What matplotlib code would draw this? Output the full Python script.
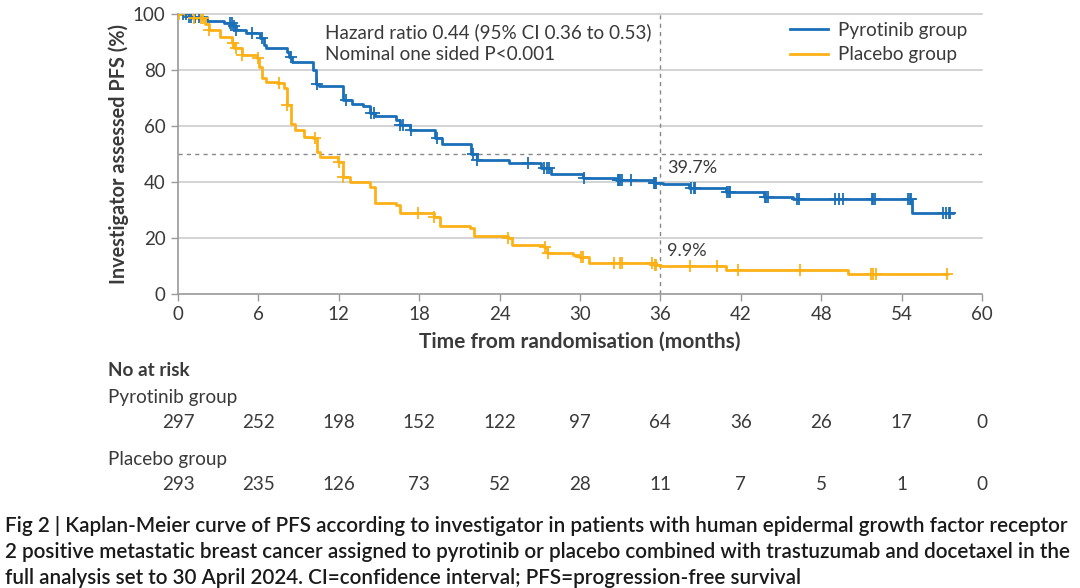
import numpy as np
import matplotlib
matplotlib.use("Agg")
import matplotlib.pyplot as plt
from matplotlib.lines import Line2D

plt.rcParams['font.family'] = ['Lato', 'DejaVu Sans']

# ---------------- data ----------------
pyro_t = [0, 0.8, 2.2, 3.4, 4.1, 4.3, 5.1, 6.1, 6.4, 6.6, 8.1, 8.3, 8.5, 10.1, 10.3, 10.5,
          12.35, 13.0, 13.8, 14.3, 14.7, 16.3, 16.6, 17.3, 19.2, 19.7, 21.9, 22.3, 24.7,
          27.1, 27.8, 30.2, 32.7, 35.5, 36.2, 38.1, 40.9, 43.7, 45.9, 54.75]
pyro_s = [100, 99, 97.6, 96.8, 95.8, 94.3, 93.1, 91.3, 88.9, 87.8, 86.5, 84.8, 83, 80, 75, 74.3,
          69.3, 68.0, 67.0, 64.6, 63.6, 62.1, 60.4, 58.6, 55.8, 53.6, 50.0, 47.9, 46.7,
          44.9, 42.9, 41.3, 40.6, 39.7, 39.2, 38.0, 36.5, 34.8, 33.8, 28.8]
pyro_end = 57.8
pyro_cens = [0.4, 0.6, 0.8, 1.0, 1.3, 1.6, 3.9, 4.0, 4.15, 4.35, 5.5, 6.3, 8.4, 10.4, 12.5,
             14.4, 14.6, 16.6, 16.8, 17.4, 19.3, 22.0, 22.3, 26.1, 27.3, 27.5, 27.7, 30.3,
             32.8, 32.9, 33.0, 33.1, 33.8, 35.5, 35.6, 35.7, 38.3, 38.5, 38.6, 41.0, 41.1,
             41.2, 43.8, 43.9, 44.0, 46.2, 46.35, 49.0, 49.3, 49.6, 51.8, 51.9, 52.0, 54.5,
             54.6, 54.7, 57.1, 57.3, 57.5, 57.6]

plac_t = [0, 1.0, 2.0, 2.3, 3.1, 4.0, 4.2, 4.75, 5.9, 6.05, 6.25, 6.6, 7.4, 7.9, 8.1, 8.4, 8.7,
          9.4, 10.1, 10.35, 10.6, 11.96, 12.3, 12.8, 14.3, 14.7, 16.3, 16.6, 19.1, 19.55,
          21.8, 22.1, 24.6, 24.9, 27.3, 27.5, 29.5, 29.9, 30.7, 35.5, 36.0, 40.9, 50.0]
plac_s = [100, 98.6, 96.5, 94.3, 91.9, 89.5, 87.7, 85.4, 84.2, 81.2, 77, 75.8, 75.2, 73.5, 67.5,
          60.6, 58.4, 56.2, 55.6, 50.8, 49.0, 47.3, 41.9, 40.1, 38.3, 32.4, 31.8, 28.8, 27.6,
          24.3, 23.5, 20.7, 20.1, 17.5, 16.9, 14.5, 13.9, 13.1, 11.2, 10.4, 9.9, 8.6, 7.0]
plac_end = 57.4
plac_cens = [0.1, 1.2, 1.7, 1.9, 2.3, 4.1, 4.3, 4.8, 6.0, 7.5, 8.15, 10.2, 12.0, 12.3, 17.9,
             19.1, 24.6, 27.4, 27.6, 30.1, 30.2, 32.5, 33.0, 33.1, 35.4, 35.6, 35.7, 38.2,
             40.2, 41.8, 46.4, 51.7, 51.9, 52.1, 57.4]

xticks = [0, 6, 12, 18, 24, 30, 36, 42, 48, 54, 60]
yticks = [0, 20, 40, 60, 80, 100]
risk_pyro = [297, 252, 198, 152, 122, 97, 64, 36, 26, 17, 0]
risk_plac = [293, 235, 126, 73, 52, 28, 11, 7, 5, 1, 0]

BLUE = '#1a6fb8'
ORANGE = '#fdb117'
TXT = '#3a3a3a'
FS = 13.6

W, H = 1080, 588
fig = plt.figure(figsize=(W / 100, H / 100), dpi=100)
ax = fig.add_axes([178 / W, 1 - 294 / H, 804 / W, 280 / H])


def draw(ts, ss, end, cens, color, label):
    t = np.array(ts + [end])
    s = np.array(ss + [ss[-1]])
    ax.step(t, s, where='post', color=color, lw=2.0, label=label, zorder=3)
    c = np.array(cens)
    idx = np.searchsorted(np.array(ts), c, side='right') - 1
    ax.plot(c, np.array(ss)[idx], ls='none', marker='+', ms=8, mew=1.3, color=color, zorder=4)


draw(pyro_t, pyro_s, pyro_end, pyro_cens, BLUE, 'Pyrotinib group')
draw(plac_t, plac_s, plac_end, plac_cens, ORANGE, 'Placebo group')

ax.set_xlim(0, 60)
ax.set_ylim(0, 100)
ax.set_xticks(xticks)
ax.set_yticks(yticks)
ax.tick_params(axis='both', direction='out', length=5, width=1, color='#999999',
               labelsize=13.5, labelcolor=TXT, pad=4)
for sp in ['top', 'right']:
    ax.spines[sp].set_visible(False)
for sp in ['left', 'bottom']:
    ax.spines[sp].set_color('#999999')
    ax.spines[sp].set_linewidth(1.2)
for y in yticks[1:]:
    ax.axhline(y, color='#cccccc', lw=1.2, zorder=1, clip_on=False)
ax.axhline(50, color='#888888', lw=1, ls=(0, (3, 3)), zorder=2)
ax.axvline(36, color='#888888', lw=1, ls=(0, (3, 3)), zorder=2)

ax.set_xlabel('Time from randomisation (months)', fontsize=15, fontweight='bold', color=TXT, labelpad=6)
ax.set_ylabel('Investigator assessed PFS (%)', fontsize=14.3, fontweight='bold', color=TXT, labelpad=3)

ax.text(36.5, 39.7 + 2.5, '39.7%', fontsize=FS - 0.6, color=TXT, va='bottom', ha='left')
ax.text(36.5, 9.9 + 2.5, '9.9%', fontsize=FS - 0.6, color=TXT, va='bottom', ha='left')

fig.text(325 / W, 1 - 32 / H, 'Hazard ratio 0.44 (95% CI 0.36 to 0.53)', fontsize=FS, color=TXT, va='center')
fig.text(325 / W, 1 - 54 / H, 'Nominal one sided P<0.001', fontsize=FS, color=TXT, va='center')

handles = [Line2D([0], [0], color=BLUE, lw=2), Line2D([0], [0], color=ORANGE, lw=2)]
leg = fig.legend(handles, ['Pyrotinib group', 'Placebo group'], loc='upper left',
                 bbox_to_anchor=(790 / W, 1 - 22 / H), frameon=False, fontsize=FS,
                 handlelength=2.0, handletextpad=0.55, labelspacing=0.38, borderaxespad=0,
                 borderpad=0)
for t in leg.get_texts():
    t.set_color(TXT)

# number at risk
fig.text(108 / W, 1 - 370 / H, 'No at risk', fontsize=FS, fontweight='bold', color=TXT, va='center')
fig.text(108 / W, 1 - 397 / H, 'Pyrotinib group', fontsize=FS, color=TXT, va='center')
fig.text(108 / W, 1 - 460 / H, 'Placebo group', fontsize=FS, color=TXT, va='center')
for xt, a, b in zip(xticks, risk_pyro, risk_plac):
    xf = ax.transData.transform((xt, 0))[0] / W
    fig.text(xf, 1 - 423 / H, str(a), fontsize=FS, color=TXT, ha='center', va='center')
    fig.text(xf, 1 - 485 / H, str(b), fontsize=FS, color=TXT, ha='center', va='center')

cap = ("Fig 2 | Kaplan-Meier curve of PFS according to investigator in patients with human epidermal growth factor receptor\n"
       "2 positive metastatic breast cancer assigned to pyrotinib or placebo combined with trastuzumab and docetaxel in the\n"
       "full analysis set to 30 April 2024. CI=confidence interval; PFS=progression-free survival")
fig.text(5 / W, 1 - 516 / H, cap, fontsize=14.85, fontweight='semibold', color='#1a1a1a',
         va='top', ha='left', linespacing=1.38)

fig.savefig('out.png', dpi=100)
